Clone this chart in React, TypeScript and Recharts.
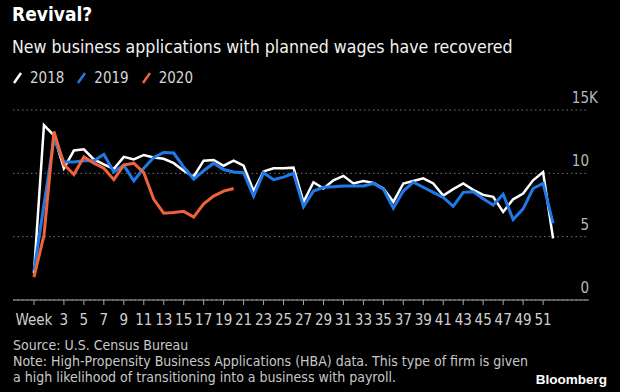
import React from "react";
import {
  LineChart,
  Line,
  XAxis,
  YAxis,
  CartesianGrid,
} from "recharts";

// week index 0..52 (0 is the "Week" tick)
const weeks = [
  0, 1, 2, 3, 4, 5, 6, 7, 8, 9, 10, 11, 12, 13, 14, 15, 16, 17, 18, 19, 20,
  21, 22, 23, 24, 25, 26, 27, 28, 29, 30, 31, 32, 33, 34, 35, 36, 37, 38, 39,
  40, 41, 42, 43, 44, 45, 46, 47, 48, 49, 50, 51, 52,
];

// applications, thousands
const apps2018 = [
  2.1, 13.8, 13.0, 10.4, 11.8, 11.9, 11.1, 10.7, 10.35, 11.3, 11.1, 11.45,
  11.25, 11.15, 10.8, 10.2, 9.75, 11.0, 11.05, 10.6, 11.0, 10.6, 8.6, 10.15,
  10.4, 10.4, 10.45, 7.75, 9.3, 8.8, 9.45, 9.8, 9.2, 9.4, 9.25, 8.8, 7.75,
  9.2, 9.4, 9.6, 9.2, 8.25, 8.75, 9.2, 8.7, 8.3, 8.15, 6.95, 7.95, 8.4, 9.45,
  10.1, 4.87,
];
const apps2019 = [
  2.3, 7.5, 12.7, 10.9, 10.9, 11.0, 11.0, 11.5, 10.1, 10.65, 9.4, 10.4, 11.25,
  11.65, 11.6, 10.5, 9.55, 10.2, 10.8, 10.3, 10.1, 10.05, 8.2, 10.05, 9.5,
  9.7, 10.0, 7.37, 8.6, 8.9, 8.95, 9.0, 9.0, 9.0, 9.2, 8.75, 7.25, 8.6, 9.3,
  8.9, 8.5, 8.1, 7.4, 8.5, 8.55, 8.0, 7.5, 8.35, 6.35, 7.2, 8.8, 9.2, 6.05,
];
const apps2020 = [
  1.8, 5.1, 13.3, 10.7, 9.9, 11.3, 10.8, 10.4, 9.5, 10.65, 10.8, 10.05, 7.95,
  6.85, 6.9, 7.0, 6.55, 7.6, 8.2, 8.6, 8.8,
];

const xTicks = [
  0, 3, 5, 7, 9, 11, 13, 15, 17, 19, 21, 23, 25, 27, 29, 31, 33, 35, 37, 39,
  41, 43, 45, 47, 49, 51,
];
const yTicks = [0, 5, 10, 15];

const series = [
  { key: "y2018", name: "2018", color: "#ffffff", width: 2.5 },
  { key: "y2019", name: "2019", color: "#1f7ae8", width: 3 },
  { key: "y2020", name: "2020", color: "#f0623a", width: 3 },
];

const data = weeks.map((w, i) => ({
  week: w,
  y2018: apps2018[i],
  y2019: apps2019[i],
  y2020: i < apps2020.length ? apps2020[i] : null,
}));

const FONT = "'Liberation Sans Narrow', 'DejaVu Sans Condensed', Roboto, sans-serif";

function renderYTick(props: any) {
  const { x, y, payload } = props;
  const v = payload.value;
  return (
    <g key={v}>
      <text x={x} y={y - 7} textAnchor="end" fill="#b8b8b8" fontSize={15} fontFamily={FONT}>
        {String(v)}
      </text>
      {v === 15 && (
        <text x={x} y={y - 7} textAnchor="start" fill="#b8b8b8" fontSize={15} fontFamily={FONT}>
          K
        </text>
      )}
    </g>
  );
}

function ChartLegend() {
  return (
    <div
      style={{
        position: "absolute",
        top: 69,
        left: 12,
        display: "flex",
        gap: 12,
        fontSize: 15,
        color: "#d6d6d6",
      }}
    >
      {series.map((s) => (
        <span key={s.key} style={{ display: "flex", alignItems: "center" }}>
          <svg width={12} height={14} style={{ marginRight: 6 }}>
            <line x1={2} y1={12} x2={9} y2={2} stroke={s.color} strokeWidth={2.5} />
          </svg>
          {s.name}
        </span>
      ))}
    </div>
  );
}

export default function App() {
  return (
    <div
      style={{
        position: "fixed",
        top: 0,
        left: 0,
        width: 620,
        height: 392,
        background: "#000",
        overflow: "hidden",
        fontFamily: FONT,
      }}
    >
      <div style={{ position: "absolute", left: 12, top: 3, color: "#fff", fontSize: 19, fontWeight: 700 }}>
        Revival?
      </div>
      <div style={{ position: "absolute", left: 12, top: 37, color: "#f2f2f2", fontSize: 17.6 }}>
        New business applications with planned wages have recovered
      </div>
      <ChartLegend />
      <LineChart
        width={620}
        height={392}
        data={data}
        margin={{ top: 110, right: 30, bottom: 62, left: 13 }}
        style={{ position: "absolute", top: 0, left: 0 }}
      >
        <CartesianGrid vertical={false} stroke="#777" strokeDasharray="1.5 3" />
        <XAxis
          dataKey="week"
          type="number"
          domain={[-2.1, 55.6]}
          ticks={xTicks}
          interval={0}
          height={30}
          tickSize={5}
          tickMargin={9}
          stroke="#aaa"
          tick={{ fill: "#d0d0d0", fontSize: 15, fontFamily: FONT }}
          tickFormatter={(v: number) => (v === 0 ? "Week" : String(v))}
        />
        <YAxis
          orientation="right"
          domain={[0, 15]}
          ticks={yTicks}
          width={1}
          axisLine={false}
          tickLine={false}
          tickSize={0}
          tickMargin={0}
          tick={renderYTick}
        />
        {series.map((s) => (
          <Line
            key={s.key}
            dataKey={s.key}
            name={s.name}
            stroke={s.color}
            strokeWidth={s.width}
            dot={false}
            type="linear"
            isAnimationActive={false}
            connectNulls={false}
          />
        ))}
      </LineChart>
      <div style={{ position: "absolute", left: 13, top: 337, color: "#c8c8c8", fontSize: 14, lineHeight: "16px" }}>
        Source: U.S. Census Bureau
        <br />
        Note: High-Propensity Business Applications (HBA) data. This type of firm is given
        <br />
        a high likelihood of transitioning into a business with payroll.
      </div>
      <div
        style={{
          position: "absolute",
          right: 13,
          top: 372,
          color: "#fff",
          fontSize: 13.5,
          fontWeight: 700,
          fontFamily: "'Liberation Sans', Arial, sans-serif",
        }}
      >
        Bloomberg
      </div>
    </div>
  );
}
